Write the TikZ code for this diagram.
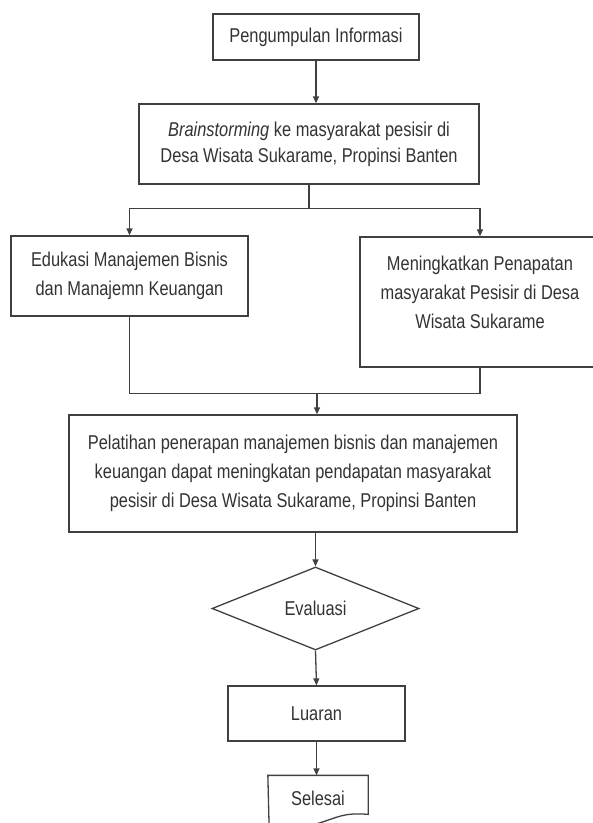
\documentclass[tikz,border=0pt]{standalone}
\usepackage{fontspec}
\setmainfont{Liberation Sans}[FakeStretch=0.82]
\usetikzlibrary{arrows.meta}
\usetikzlibrary{shapes.geometric}

\begin{document}
\begin{tikzpicture}[x=1pt,y=-1pt,
  box/.style={rectangle,draw=black!75,line width=1.3pt,align=center,text=black!80,
    font=\fontsize{20}{29}\selectfont,inner sep=0pt},
  flow/.style={draw=black!75,line width=1.3pt},
  arr/.style={flow,-{Triangle[length=7pt,width=6pt]}}]
\useasboundingbox (0,0) rectangle (593,823);
\clip (0,0) rectangle (593,823);

\node[box,minimum width=206,minimum height=46] (info) at (316,37) {Pengumpulan Informasi};
\node[box,minimum width=340,minimum height=80] (brain) at (309,144)
  {\textit{Brainstorming} ke masyarakat pesisir di\\[-3pt]Desa Wisata Sukarame, Propinsi Banten};
\node[box,minimum width=237,minimum height=80] (edu) at (129.5,276)
  {Edukasi Manajemen Bisnis\\dan Manajemn Keuangan};
\node[box,minimum width=240,minimum height=130,text depth=20pt] (meng) at (480,302)
  {Meningkatkan Penapatan\\masyarakat Pesisir di Desa\\Wisata Sukarame};
\node[box,minimum width=448,minimum height=117] (pel) at (293,473.5)
  {Pelatihan penerapan manajemen bisnis dan manajemen\\keuangan dapat meningkatan pendapatan masyarakat\\pesisir di Desa Wisata Sukarame, Propinsi Banten};
\node[box,diamond,shape aspect=2.5,minimum width=207,minimum height=83] (eval) at (315.5,608.5) {Evaluasi};
\node[box,minimum width=177,minimum height=55] (lua) at (316.5,713.5) {Luaran};
\node[box,draw=none,minimum width=99,minimum height=44] (sel) at (318,798) {Selesai};

\draw[flow] (sel.north west) -- (sel.north east) -- ++(0,39)
  .. controls +(-25,-2) and +(20,-6) .. ++(-50,9)
  .. controls +(-20,6) and +(25,2) .. ++(-49,5) -- cycle;

\draw[arr] (info.south) -- (info.south |- brain.north);
\draw[arr] (brain.south) -- ++(0,24) -| (edu.north);
\draw[arr] (brain.south) -- ++(0,24) -| (meng.north);
\draw[flow] (edu.south) -- ++(0,77) -| (meng.south);
\coordinate (join) at (317,393);
\draw[arr] (join) -- (join |- pel.north);
\draw[arr] (eval.north |- pel.south) -- (eval.north);
\draw[arr] (eval.south) -- (lua.north);
\draw[arr] (lua.south) -- (lua.south |- sel.north);

\end{tikzpicture}
\end{document}
